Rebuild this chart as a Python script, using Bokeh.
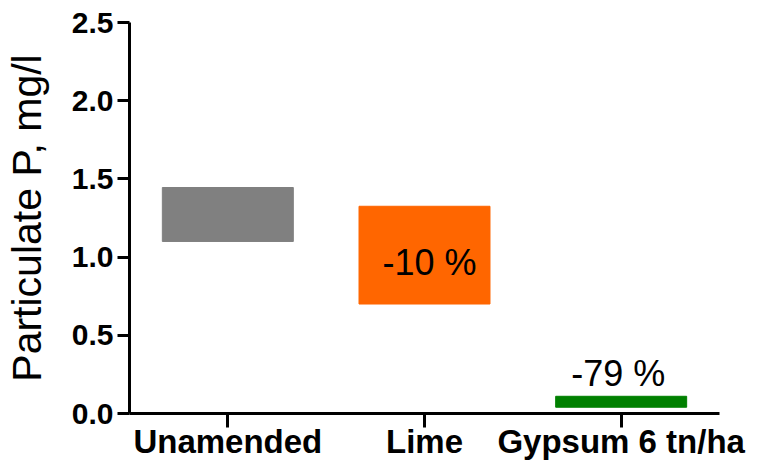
from bokeh.plotting import figure
from bokeh.models import ColumnDataSource, FixedTicker, NumeralTickFormatter
from bokeh.core.properties import value
from bokeh.embed import file_html
from bokeh.resources import INLINE

# Particulate P range per treatment (mg/l)
treatments = ["Unamended", "Lime", "Gypsum 6 tn/ha"]
p_low = [1.10, 0.70, 0.04]
p_high = [1.445, 1.325, 0.11]
bar_colors = ["#808080", "#FF6600", "#008000"]

# Reduction relative to unamended soil
change_labels = ["-10 %", "-79 %"]
change_treatments = ["Lime", "Gypsum 6 tn/ha"]

y_ticks = [0.0, 0.5, 1.0, 1.5, 2.0, 2.5]

FONT = "Liberation Sans"

bars = ColumnDataSource(dict(x=treatments, bottom=p_low, top=p_high, color=bar_colors))

p = figure(
    x_range=treatments, y_range=(0, 2.5),
    width=769, height=463,
    min_border_left=129, min_border_right=50, min_border_top=22, min_border_bottom=50,
    output_backend="svg", toolbar_location=None,
)

p.vbar(x="x", bottom="bottom", top="top", width=0.666, color="color", source=bars)

# Lime label sits in the middle of its bar, gypsum label above its bar
lime_mid = (p_low[1] + p_high[1]) / 2
p.text(x=[change_treatments[0]], y=[lime_mid], text=[change_labels[0]],
       text_font=value(FONT), text_font_size="36px", text_color="black",
       text_align="center", text_baseline="middle", x_offset=5, y_offset=7)
p.text(x=[change_treatments[1]], y=[p_high[2]], text=[change_labels[1]],
       text_font=value(FONT), text_font_size="36px", text_color="black",
       text_align="center", text_baseline="bottom", x_offset=-3, y_offset=-2)

p.xgrid.visible = False
p.ygrid.visible = False
p.outline_line_color = None

# y axis
ya = p.yaxis[0]
ya.ticker = FixedTicker(ticks=y_ticks)
ya.formatter = NumeralTickFormatter(format="0.0")
ya.axis_label = "Particulate P, mg/l"
ya.axis_label_text_font = FONT
ya.axis_label_text_font_style = "normal"
ya.axis_label_text_font_size = "41px"
ya.axis_label_text_color = "black"
ya.axis_label_standoff = 19
ya.major_label_text_font = FONT
ya.major_label_text_font_style = "bold"
ya.major_label_text_font_size = "30px"
ya.major_label_text_color = "black"
ya.major_label_standoff = 4
ya.axis_line_width = 3
ya.axis_line_color = "black"
ya.major_tick_line_width = 3
ya.major_tick_line_color = "black"
ya.major_tick_out = 12
ya.major_tick_in = 0
ya.minor_tick_line_color = None

# x axis
xa = p.xaxis[0]
xa.major_label_text_font = FONT
xa.major_label_text_font_style = "bold"
xa.major_label_text_font_size = "33px"
xa.major_label_text_color = "black"
xa.major_label_standoff = -5
xa.axis_line_width = 3
xa.axis_line_color = "black"
xa.major_tick_line_width = 3
xa.major_tick_line_color = "black"
xa.major_tick_out = 14
xa.major_tick_in = 0
xa.minor_tick_line_color = None

open("out.html", "w").write(file_html(p, INLINE))
